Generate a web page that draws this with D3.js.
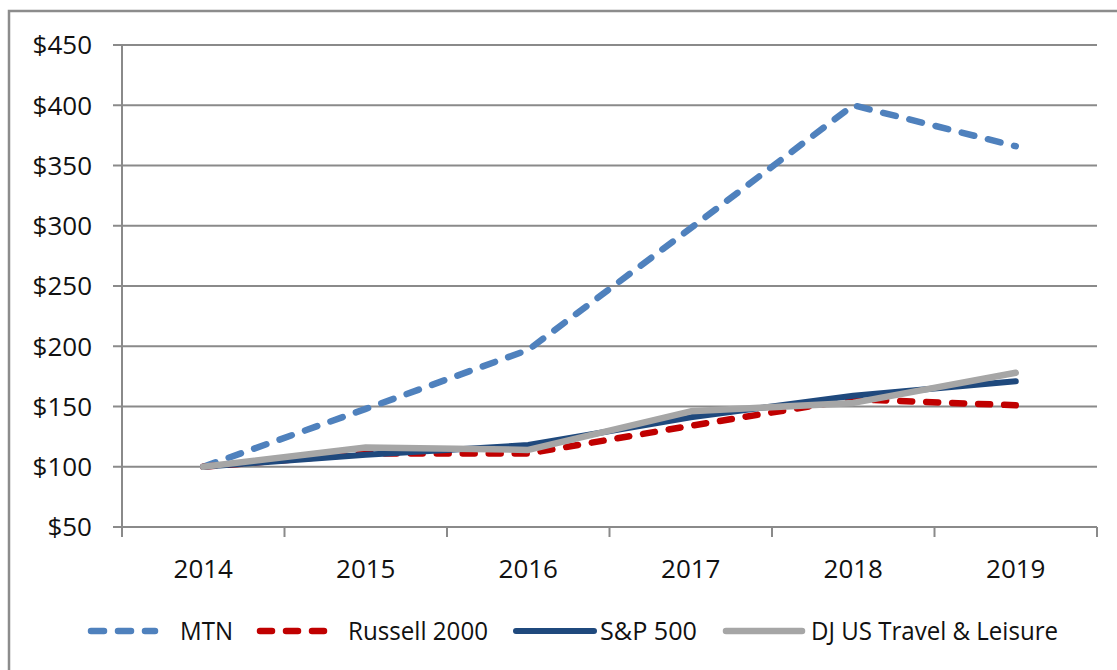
<!DOCTYPE html>
<html>
<head>
<meta charset="utf-8">
<script src="https://cdn.jsdelivr.net/npm/d3@7"></script>
<style>
  html, body { margin: 0; padding: 0; background: #fff; }
  svg { display: block; font-family: "Open Sans", sans-serif; }
</style>
</head>
<body>
<div id="chart"><svg></svg></div>
<script>
const years = ["2014", "2015", "2016", "2017", "2018", "2019"]
const mtn = [100, 148, 197, 298, 400, 366]
const russell = [100, 111, 111, 134, 156, 151]
const sp500 = [100, 110, 118, 141, 159, 171]
const djTravel = [100, 116, 114, 146, 153, 178]
const yTicks = [50, 100, 150, 200, 250, 300, 350, 400, 450]

const series = [
  { name: "MTN", values: mtn, color: "#4f81bd", width: 6.5, dash: "13,14", legendX: 91, legendLen: 64, textLen: 53 },
  { name: "Russell 2000", values: russell, color: "#c00000", width: 6.5, dash: "12,14", legendX: 260, legendLen: 68, textLen: 140 },
  { name: "S&P 500", values: sp500, color: "#1f497d", width: 6, dash: null, legendX: 516, legendLen: 78, textLen: 97 },
  { name: "DJ US Travel & Leisure", values: djTravel, color: "#a6a6a6", width: 6.5, dash: null, legendX: 726, legendLen: 76, textLen: 247 },
]

const width = 1117
const height = 670
const plotLeft = 122
const plotRight = 1097
const plotTop = 45
const plotBottom = 527

const svg = d3.select("#chart svg").attr("width", width).attr("height", height)

// outer chart border (left and top visible)
svg.append("path")
  .attr("d", `M9,${height + 5} L9,11 L${width + 5},11`)
  .attr("fill", "none")
  .attr("stroke", "#8c8c8c")
  .attr("stroke-width", 2.5)

const x = d3.scaleBand().domain(years).range([plotLeft, plotRight]).padding(0)
const y = d3.scaleLinear().domain([50, 450]).range([plotBottom, plotTop])

// gridlines + y axis
svg.append("g")
  .selectAll("line")
  .data(yTicks)
  .join("line")
  .attr("x1", plotLeft - 9)
  .attr("x2", plotRight)
  .attr("y1", (d) => y(d))
  .attr("y2", (d) => y(d))
  .attr("stroke", "#8a8a8a")
  .attr("stroke-width", 2)

svg.append("line")
  .attr("x1", plotLeft).attr("x2", plotLeft)
  .attr("y1", plotTop).attr("y2", plotBottom)
  .attr("stroke", "#8a8a8a")
  .attr("stroke-width", 2)

svg.append("g")
  .selectAll("text")
  .data(yTicks)
  .join("text")
  .attr("x", plotLeft - 30)
  .attr("y", (d) => y(d))
  .attr("dy", "0.36em")
  .attr("text-anchor", "end")
  .attr("font-size", 26)
  .attr("fill", "#111")
  .text((d) => "$" + d)

// x axis ticks between categories
const boundaries = years.map((d) => x(d)).concat([plotRight])
svg.append("g")
  .selectAll("line")
  .data(boundaries)
  .join("line")
  .attr("x1", (d) => d).attr("x2", (d) => d)
  .attr("y1", plotBottom).attr("y2", plotBottom + 10)
  .attr("stroke", "#8a8a8a")
  .attr("stroke-width", 2)

svg.append("g")
  .selectAll("text")
  .data(years)
  .join("text")
  .attr("x", (d) => x(d) + x.bandwidth() / 2)
  .attr("y", 578)
  .attr("text-anchor", "middle")
  .attr("font-size", 26)
  .attr("fill", "#111")
  .text((d) => d)

// lines
const line = d3.line()
  .x((d, i) => x(years[i]) + x.bandwidth() / 2)
  .y((d) => y(d))

series.forEach((s) => {
  svg.append("path")
    .datum(s.values)
    .attr("d", line)
    .attr("fill", "none")
    .attr("stroke", s.color)
    .attr("stroke-width", s.width)
    .attr("stroke-linecap", "round")
    .attr("stroke-linejoin", "round")
    .attr("stroke-dasharray", s.dash)
})

// legend
const legendY = 631
const legend = svg.append("g")
series.forEach((s) => {
  legend.append("line")
    .attr("x1", s.legendX).attr("x2", s.legendX + s.legendLen)
    .attr("y1", legendY).attr("y2", legendY)
    .attr("stroke", s.color)
    .attr("stroke-width", s.width)
    .attr("stroke-linecap", "round")
    .attr("stroke-dasharray", s.dash)
})
const textX = [180, 348, 600, 811]
series.forEach((s, i) => {
  legend.append("text")
    .attr("x", textX[i])
    .attr("y", legendY + 9)
    .attr("font-size", 25)
    .attr("fill", "#111")
    .attr("textLength", s.textLen)
    .attr("lengthAdjust", "spacingAndGlyphs")
    .text(s.name)
})
</script>
</body>
</html>
